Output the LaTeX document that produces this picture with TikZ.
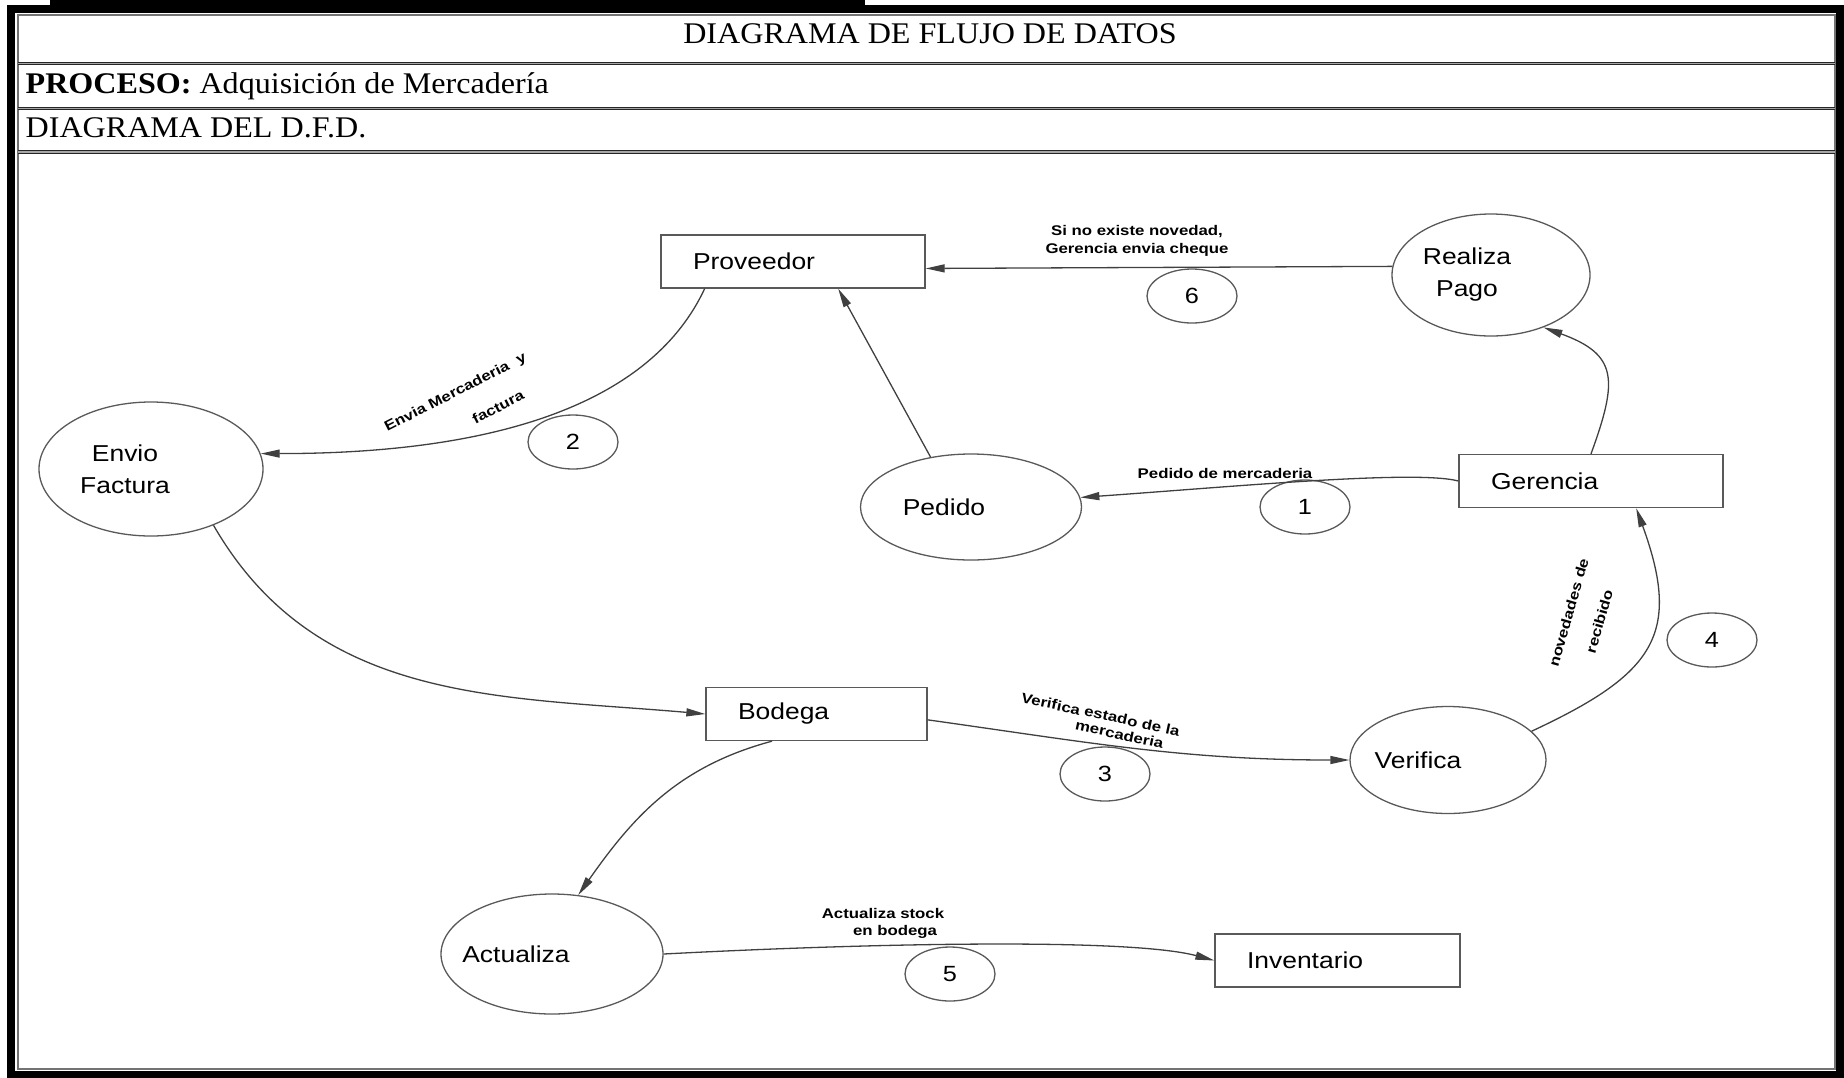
\documentclass[tikz,border=0pt]{standalone}
\usepackage{fontspec}
\newfontfamily\hdrfont{Liberation Serif}[FakeStretch=1.07]
\newfontfamily\boxfont{Liberation Sans}[FakeStretch=1.15]
\newfontfamily\lblfont{Liberation Sans}[FakeStretch=1.2]
\usetikzlibrary{arrows.meta,calc,shapes.geometric}
\tikzset{
	dfd/.style={
		x=1pt, y=1pt,
		line width=1.3pt,
		ar/.style={draw=black!75, -{Triangle[length=19pt,width=8pt]}},
		sep/.style={draw=black!85, double=black!35, double distance=1.5pt, line width=1.2pt}
		},
	hdr/.style={font=\hdrfont\fontsize{30}{36}\selectfont, inner sep=0pt},
	store/.style={draw=black!65, rectangle, minimum height=53pt, text width=#1,
		align=left, inner xsep=32pt, font=\boxfont\fontsize{23}{30}\selectfont},
	proc/.style 2 args={draw=black!65, ellipse, inner sep=0pt, align=center,
		minimum width=#1, minimum height=#2, font=\boxfont\fontsize{23}{32}\selectfont},
	num/.style={draw=black!65, ellipse, minimum width=90pt, minimum height=54pt,
		inner sep=0pt, font=\boxfont\fontsize{22}{26}\selectfont},
	flow/.style={font=\lblfont\bfseries\fontsize{14}{17}\selectfont, align=center, inner sep=0pt}
}

\begin{document}
\begin{tikzpicture}[dfd]
   \useasboundingbox (0,0) rectangle (1844,-1077);
   \draw[line width=8pt] (11,-9) rectangle (1840,-1075);
   \fill (50,0) rectangle (865,-9);
   \draw[black!55, line width=1.5pt] (18,-15) rectangle (1835,-1069);
   \foreach \y in {63.5,108.5,152} \draw[sep] (18,-\y) -- (1835,-\y);
   \node[hdr, anchor=base] (ttl) at (930,-43) {DIAGRAMA DE FLUJO DE DATOS};
   \node[hdr, anchor=base west] (prc) at (25,-93) {\textbf{PROCESO:} Adquisición de Mercadería};
   \node[hdr, anchor=base west] (sub) at (25,-137) {DIAGRAMA DEL D.F.D.};

   \node[store=200pt] (prov) at (793,-261.5) {Proveedor};
   \node[store=200pt] (ger) at (1591,-481) {Gerencia};
   \node[store=157pt] (bod) at (816.5,-714) {Bodega};
   \node[store=181pt] (inv) at (1337.5,-960.5) {Inventario};
   \node[proc={198pt}{122pt}] (pago) at (1491,-275) {\hspace*{-48pt}Realiza\\\hspace*{-48pt}Pago};
   \node[proc={224pt}{134pt}] (envio) at (151,-469) {\hspace*{-52pt}Envio\\\hspace*{-52pt}Factura};
   \node[proc={221pt}{106pt}] (ped) at (971,-507) {\hspace*{-54pt}Pedido};
   \node[proc={196pt}{107pt}] (ver) at (1448,-760) {\hspace*{-60pt}Verifica};
   \node[proc={222pt}{120pt}] (act) at (552,-954) {\hspace*{-72pt}Actualiza};
   \foreach \n/\x/\y in {1/1305/507,2/573/442,3/1105/774,4/1712/640,5/950/974,6/1192/296}
      \node[num] (n\n) at (\x,-\y) {\n};

   \node[flow] (l1) at (1225,-473) {Pedido de mercaderia};
   \node[flow, rotate=27] (l2) at (462.5,-406.5) {Envia Mercaderia\ \ y\\[16pt]\hspace*{63pt}factura};
   \node[flow, rotate=-12] (l3) at (1099,-722) {Verifica estado de la\\[-1.5pt]\hspace*{45pt}mercaderia};
   \node[flow, rotate=74] (l4) at (1584,-617) {novedades de\\[15pt]recibido};
   \node[flow] (l5) at (883,-923) {Actualiza stock\\\hspace*{24pt}en bodega};
   \node[flow] (l6) at (1137,-241) {Si no existe novedad,\\[1pt]Gerencia envia cheque};

   \draw[ar] (pago.175) -- (prov.-3);
   \draw[ar] ($(prov.south west)!.167!(prov.south east)$) to[out=245, in=0, out looseness=.65, in looseness=1.34] (envio.8);
   \draw[ar] (ped.129) -- (prov.-31);
   \draw[ar] (ger.west) to[out=165, in=4, out looseness=.3] (ped.5);
   \draw[ar] (ger.north) to[out=70, in=-20, looseness=1.5] (pago.-45);
   \draw[ar] (envio.-42) to[out=-60, in=175] (bod.west);
   \draw[ar] (bod.-3) to[out=-8, in=180] (ver.west);
   \draw[ar] (ver.19) to[out=25, in=-70, looseness=1.4] (ger.-31.5);
   \draw[ar] ($(bod.south west)!.3!(bod.south east)$) to[out=195, in=55] (act.66);
   \draw[ar] (act.east) to[out=3, in=165, in looseness=.4] (inv.west);
\end{tikzpicture}
\end{document}
